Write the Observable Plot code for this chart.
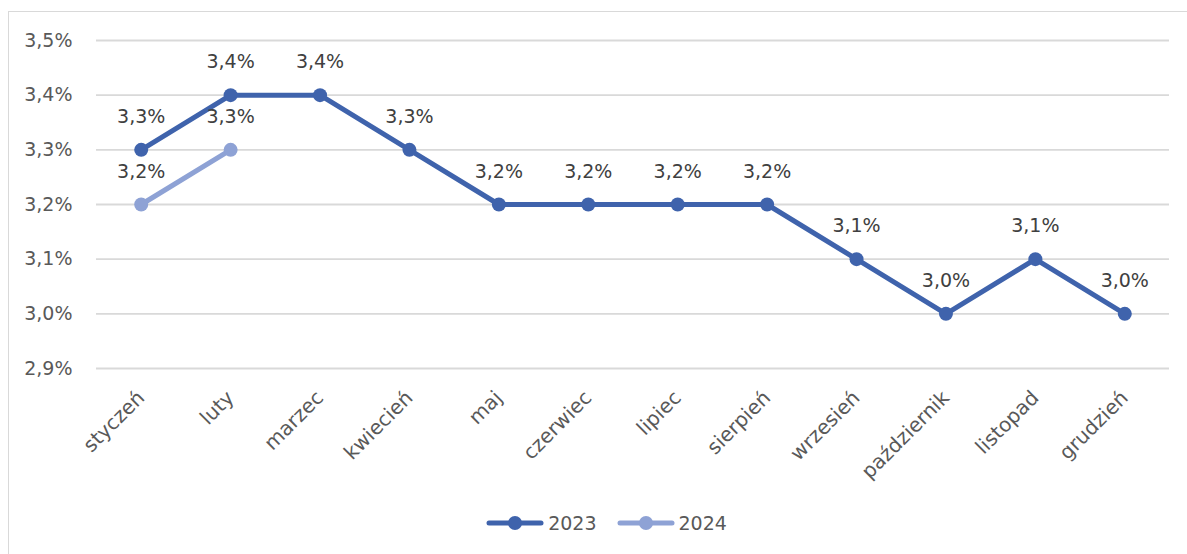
<!DOCTYPE html>
<html><head><meta charset="utf-8">
<script src="https://cdn.jsdelivr.net/npm/d3@7"></script>
<script src="https://cdn.jsdelivr.net/npm/@observablehq/plot@0.6"></script>
<style>
body{margin:0;background:#fff;font-family:"DejaVu Sans",sans-serif;}
#wrap{position:relative;width:1187px;height:554px;overflow:hidden;}
#frame{position:absolute;left:8px;top:11px;width:1300px;height:700px;border:1.5px solid #d9d9d9;box-sizing:border-box;}
#chart{position:absolute;left:0;top:0;}
#legend{position:absolute;top:508px;left:0;width:1187px;height:30px;padding-left:26px;box-sizing:border-box;display:flex;justify-content:center;align-items:center;font-size:19px;color:#595959;}
.item{display:flex;align-items:center;margin:0 10px;}
.item svg{margin-right:4px;}
</style>
</head><body>
<div id="wrap"><div id="frame"></div><div id="chart"></div><div id="legend"></div></div>
<script>
const months = ["styczeń","luty","marzec","kwiecień","maj","czerwiec","lipiec","sierpień","wrzesień","październik","listopad","grudzień"];
const values2023 = [3.3,3.4,3.4,3.3,3.2,3.2,3.2,3.2,3.1,3.0,3.1,3.0];
const values2024 = [3.2,3.3];
const yTicks = [2.9,3.0,3.1,3.2,3.3,3.4,3.5];
const seriesNames = ["2023","2024"];
const colors = ["#3f63ac","#8ea2d5"];

const data = [
  ...values2023.map((v,i)=>({month:months[i],value:v,series:seriesNames[0]})),
  ...values2024.map((v,i)=>({month:months[i],value:v,series:seriesNames[1]}))
];
const fmt = v => v.toFixed(1).replace(".",",")+"%";

const chart = Plot.plot({
  width:1187, height:470, marginLeft:96, marginRight:18, marginTop:40, marginBottom:102,
  style:{fontFamily:"DejaVu Sans, sans-serif", fontSize:"19px", color:"#595959", background:"transparent", overflow:"visible"},
  x:{type:"point", domain:months, padding:0.5, round:false},
  y:{domain:[2.9,3.5]},
  color:{domain:seriesNames, range:colors},
  marks:[
    Plot.gridY(yTicks,{stroke:"#d9d9d9", strokeOpacity:1, strokeWidth:1.8}),
    Plot.axisY(yTicks,{tickSize:0, tickPadding:24, tickFormat:fmt, label:null, fill:"#595959", fontSize:19}),
    Plot.axisX({tickSize:0, tickRotate:-45, tickPadding:26, label:null, fill:"#595959", fontSize:20}),
    Plot.line(data,{x:"month",y:"value",z:"series",stroke:"series",strokeWidth:5}),
    Plot.dot(data,{x:"month",y:"value",fill:"series",r:7}),
    Plot.text(data,{x:"month",y:"value",text:d=>fmt(d.value),dy:-33,fill:"#404040",fontSize:19})
  ]
});
document.getElementById("chart").appendChild(chart);

const legend = document.getElementById("legend");
seriesNames.forEach((s,i)=>{
  const item = document.createElement("div");
  item.className="item";
  item.innerHTML = `<svg width="58" height="16"><line x1="3" y1="8" x2="55" y2="8" stroke="${colors[i]}" stroke-width="5" stroke-linecap="round"/><circle cx="29" cy="8" r="7" fill="${colors[i]}"/></svg><span>${s}</span>`;
  legend.appendChild(item);
});
</script>
</body></html>
